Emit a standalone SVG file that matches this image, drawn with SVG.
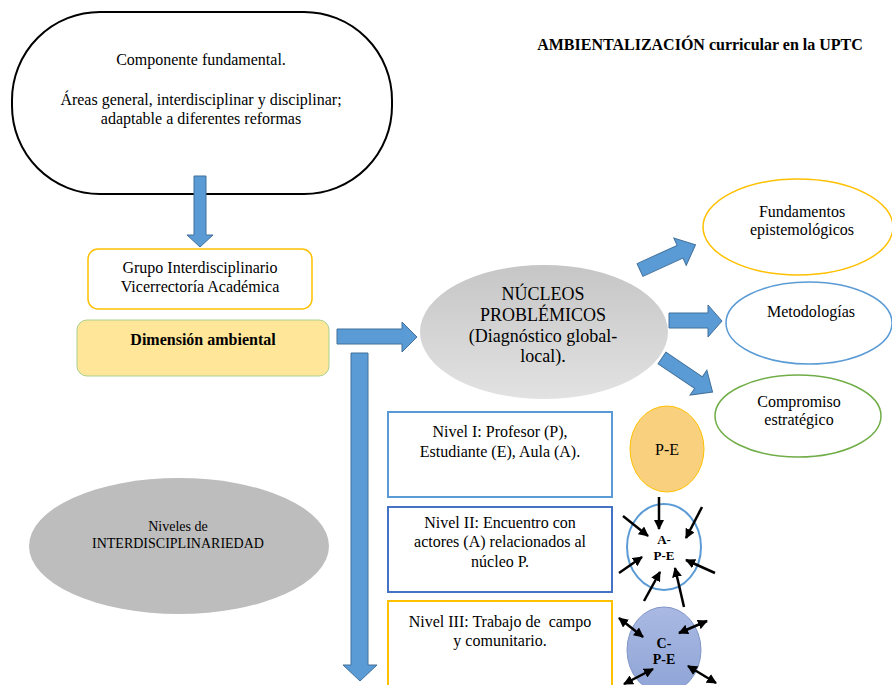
<svg xmlns="http://www.w3.org/2000/svg" width="892" height="685" viewBox="0 0 892 685">
<style>
text{font-family:"Liberation Serif","Times New Roman",serif;fill:#000;text-anchor:middle}
.t16{font-size:16px}
.t15{font-size:16px}
.b{font-weight:bold}
.blk{fill:#5B9BD5;stroke:#41719C;stroke-width:1}
.ar{stroke:#000;stroke-width:2.5;fill:none}
</style>
<defs>
<linearGradient id="gNuc" x1="0" y1="0" x2="0" y2="1">
<stop offset="0" stop-color="#C6C6C6"/>
<stop offset="1" stop-color="#E2E2E2"/>
</linearGradient>
<linearGradient id="gC" x1="0" y1="0" x2="0" y2="1">
<stop offset="0" stop-color="#A9B9E2"/>
<stop offset="1" stop-color="#8FA4D6"/>
</linearGradient>
<marker id="ah" viewBox="0 0 10 10" refX="9" refY="5" markerWidth="4" markerHeight="4" orient="auto-start-reverse">
<path d="M0,0 L10,5 L0,10 z" fill="#000"/>
</marker>
</defs>
<rect width="892" height="685" fill="#fff"/>

<text id="title" x="700" y="50" class="b" style="font-size:16px">AMBIENTALIZACIÓN curricular en la UPTC</text>

<g id="componente">
<rect x="12" y="12" width="380" height="182" rx="88" ry="88" fill="#fff" stroke="#000" stroke-width="2"/>
<text x="201" y="65" class="t16">Componente fundamental.</text>
<text x="201" y="105" class="t16">Áreas general, interdisciplinar y disciplinar;</text>
<text x="201" y="124" class="t16">adaptable a diferentes reformas</text>
</g>

<g id="grupo">
<rect x="88" y="249" width="224" height="60" rx="10" fill="#fff" stroke="#FFC000" stroke-width="1.5"/>
<text x="200" y="273" class="t15">Grupo Interdisciplinario</text>
<text x="200" y="292" class="t15">Vicerrectoría Académica</text>
</g>

<g id="dimension">
<rect x="77" y="320" width="252" height="56" rx="10" fill="#FFE699" stroke="#A9D18E" stroke-width="1"/>
<text x="203" y="345" class="t15 b">Dimensión ambiental</text>
</g>

<g id="nucleos">
<ellipse cx="544" cy="332" rx="124" ry="67" fill="url(#gNuc)"/>
<text x="543" y="300" style="font-size:18px">NÚCLEOS</text>
<text x="543" y="321" style="font-size:18px">PROBLÉMICOS</text>
<text x="543" y="342" style="font-size:18px">(Diagnóstico global-</text>
<text x="543" y="362" style="font-size:18px">local).</text>
</g>

<g id="fundamentos">
<ellipse cx="798" cy="227" rx="95" ry="48" fill="#fff" stroke="#FFC000" stroke-width="1.5"/>
<text x="802" y="217" class="t16">Fundamentos</text>
<text x="802" y="235" class="t16">epistemológicos</text>
</g>

<g id="metodologias">
<ellipse cx="809" cy="323" rx="83" ry="41" fill="#fff" stroke="#5B9BD5" stroke-width="1.5"/>
<text x="811" y="317" class="t16">Metodologías</text>
</g>

<g id="compromiso">
<ellipse cx="798" cy="416" rx="83" ry="41" fill="#fff" stroke="#70AD47" stroke-width="1.5"/>
<text x="799" y="407" class="t16">Compromiso</text>
<text x="799" y="425" class="t16">estratégico</text>
</g>

<g id="niveles">
<ellipse cx="179" cy="546" rx="150" ry="68" fill="#BDBDBD"/>
<text x="178" y="531" style="font-size:14px">Niveles de</text>
<text x="178" y="548" style="font-size:14px">INTERDISCIPLINARIEDAD</text>
</g>

<g id="nivel1">
<rect x="388" y="412" width="224" height="85" fill="#fff" stroke="#5B9BD5" stroke-width="2"/>
<text x="500" y="437" class="t15">Nivel I: Profesor (P),</text>
<text x="500" y="457" class="t15">Estudiante (E), Aula (A).</text>
</g>

<g id="nivel2">
<rect x="388" y="507" width="224" height="85" fill="#fff" stroke="#4472C4" stroke-width="2"/>
<text x="500" y="528" class="t15">Nivel II: Encuentro con</text>
<text x="500" y="547" class="t15">actores (A) relacionados al</text>
<text x="500" y="567" class="t15">núcleo P.</text>
</g>

<g id="nivel3">
<rect x="388" y="601" width="224" height="100" fill="#fff" stroke="#FFC000" stroke-width="2"/>
<text x="500" y="627" class="t15" style="white-space:pre">Nivel III: Trabajo de  campo</text>
<text x="500" y="646" class="t15">y comunitario.</text>
</g>

<g id="pe">
<ellipse cx="667" cy="449" rx="37" ry="43" fill="#F9D07D" stroke="#FFC000" stroke-width="1"/>
<text x="667" y="455" class="t15">P-E</text>
</g>

<g id="ape">
<ellipse cx="664" cy="547" rx="37" ry="43" fill="#fff" stroke="#5B9BD5" stroke-width="2"/>
<text x="664" y="544" class="b" style="font-size:13px">A-</text>
<text x="664" y="560" class="b" style="font-size:13px">P-E</text>
</g>

<g id="cpe">
<ellipse cx="664" cy="650" rx="37" ry="43" fill="url(#gC)" stroke="#7F95C8" stroke-width="1"/>
<text x="664" y="648" class="b" style="font-size:14px">C-</text>
<text x="664" y="664" class="b" style="font-size:14px">P-E</text>
</g>

<g id="connectors">
<path class="blk" d="M194,176 H206 V235 H213 L200,247 L187,235 H194 Z"/>
<path class="blk" d="M337,329 H402 V322 L417,337 L402,352 V344 H337 Z"/>
<path class="blk" d="M351,353 H368 V665 H377 L360,681 L343,665 H351 Z"/>
<path class="blk" d="M669,313 H708 V305 L722,321 L708,337 V328 H669 Z"/>
<path class="blk" transform="translate(640,270) rotate(-24.5)" d="M0,-7 H44 V-15 L61,0 L44,15 V7 H0 Z"/>
<path class="blk" transform="translate(662,358) rotate(34)" d="M0,-7 H44 V-15 L61,0 L44,15 V7 H0 Z"/>

<line class="ar" x1="659" y1="497" x2="659" y2="529" marker-end="url(#ah)"/>
<line class="ar" x1="623" y1="516" x2="648" y2="536" marker-end="url(#ah)"/>
<line class="ar" x1="702" y1="507" x2="686" y2="538" marker-end="url(#ah)"/>
<line class="ar" x1="619" y1="573" x2="642" y2="557" marker-end="url(#ah)"/>
<line class="ar" x1="715" y1="573" x2="686" y2="560" marker-end="url(#ah)"/>
<line class="ar" x1="644" y1="601" x2="660" y2="572" marker-end="url(#ah)"/>
<line class="ar" x1="684" y1="607" x2="675" y2="568" marker-end="url(#ah)"/>

<line class="ar" x1="619" y1="618" x2="643" y2="637" marker-start="url(#ah)" marker-end="url(#ah)"/>
<line class="ar" x1="707" y1="621" x2="679" y2="633" marker-start="url(#ah)" marker-end="url(#ah)"/>
<line class="ar" x1="624" y1="684" x2="653" y2="669" marker-start="url(#ah)" marker-end="url(#ah)"/>
<line class="ar" x1="688" y1="666" x2="716" y2="683" marker-start="url(#ah)" marker-end="url(#ah)"/>
</g>
</svg>
